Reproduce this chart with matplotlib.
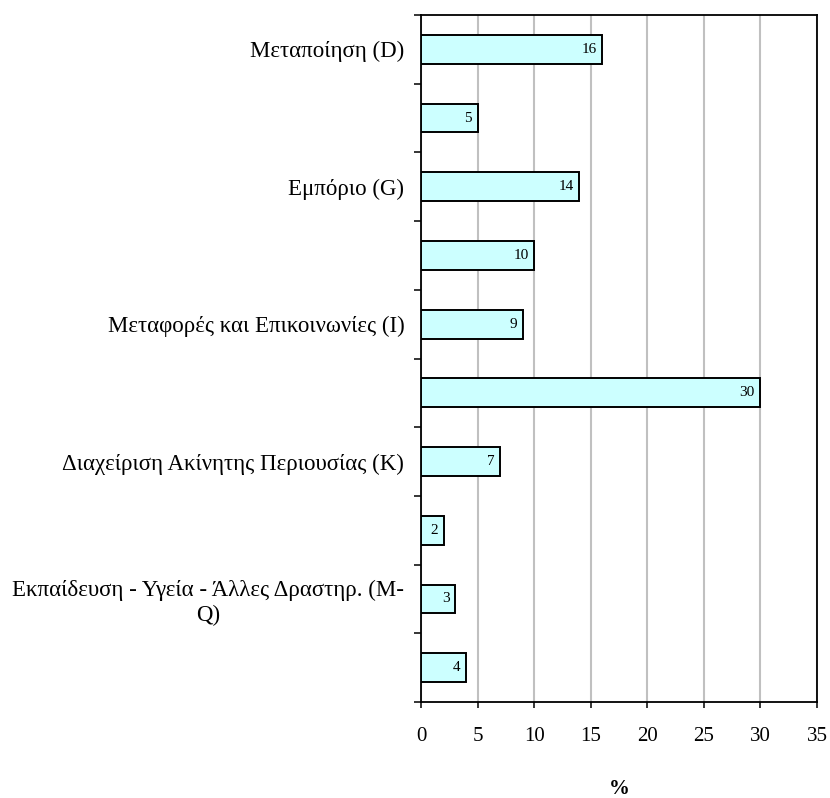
import matplotlib
matplotlib.use("Agg")
from matplotlib import pyplot as plt

plt.rcParams['font.family'] = ['Liberation Serif', 'DejaVu Serif']

# sector shares, top to bottom
values = [16, 5, 14, 10, 9, 30, 7, 2, 3, 4]
labels = ["Μεταποίηση (D)", "", "Εμπόριο (G)", "",
          "Μεταφορές και Επικοινωνίες (I)", "",
          "Διαχείριση Ακίνητης Περιουσίας (K)", "",
          "Εκπαίδευση - Υγεία - Άλλες Δραστηρ. (M-\nQ)", ""]
xticks = [0, 5, 10, 15, 20, 25, 30, 35]

fig = plt.figure(figsize=(8.3, 7.98), dpi=100)
ax = fig.add_axes([0.5072, 0.1203, 0.4771, 0.8609])

pos = list(range(len(values)))
bars = ax.barh(pos, values, height=0.42, color='#CCFFFF', edgecolor='black',
               linewidth=1.4, zorder=3)

for b, v in zip(bars, values):
    ax.annotate(str(v), xy=(b.get_width(), b.get_y() + b.get_height() / 2),
                xytext=(-4, 0), textcoords='offset points',
                ha='right', va='center', fontsize=11, zorder=4)

ax.set_xlim(0, 35)
ax.set_ylim(len(values) - 0.5, -0.5)
ax.set_xticks(xticks)
ax.tick_params(axis='x', labelsize=15, length=4, width=1.1, pad=14)
ax.xaxis.grid(True, color='#C0C0C0', linewidth=1.5, zorder=0)

# labels at category centres, ticks at category boundaries
ax.set_yticks(pos)
ax.set_yticklabels(labels, fontsize=16.5, multialignment='center', linespacing=1.2)
ax.tick_params(axis='y', which='major', length=0, pad=12)
ax.set_yticks([p - 0.5 for p in pos] + [len(values) - 0.5], minor=True)
ax.tick_params(axis='y', which='minor', length=5, width=1.1)

for s in ax.spines.values():
    s.set_linewidth(1.3)

ax.set_xlabel("%", fontsize=15, fontweight='bold', labelpad=24)

fig.savefig("out.png", dpi=100)
